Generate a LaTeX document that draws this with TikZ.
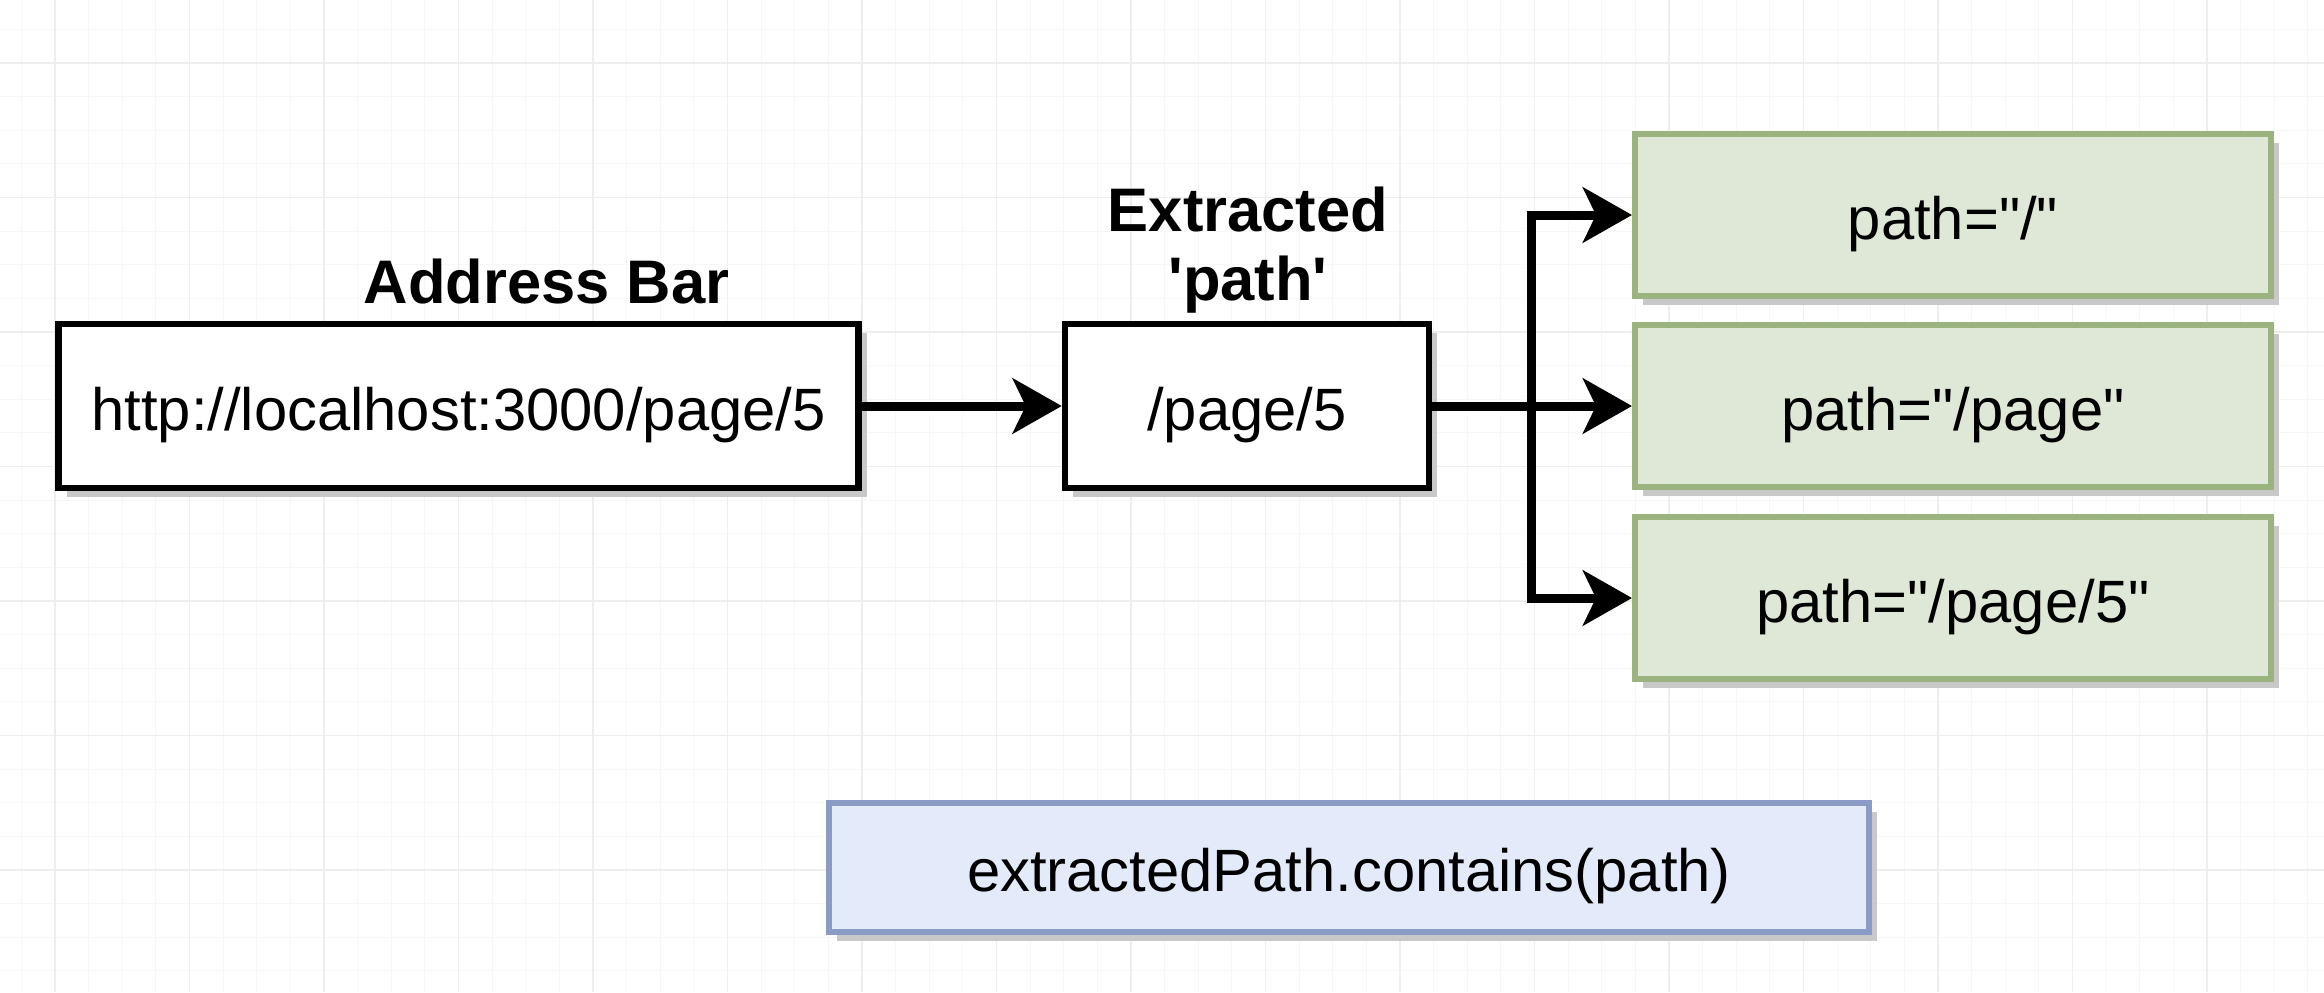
\documentclass[tikz,border=0pt]{standalone}
\usepackage{fontspec}
\setmainfont{Liberation Sans}[Ligatures=TeXOff]
\usetikzlibrary{arrows.meta,shadows}
\definecolor{gridminor}{HTML}{F7F7F7}
\definecolor{gridmajor}{HTML}{EEEEEE}
\definecolor{shadowgray}{HTML}{C8C8C8}
\definecolor{greenfill}{HTML}{DFE8D6}
\definecolor{greenline}{HTML}{9BB37F}
\definecolor{bluefill}{HTML}{E3EBFB}
\definecolor{blueline}{HTML}{8A9CC6}
\tikzset{
  box/.style={draw=black, line width=0.065cm, fill=white, minimum height=1.64cm,
    text height=0.6cm, text depth=0.12cm,
    drop shadow={shadow xshift=0.08cm, shadow yshift=-0.09cm, fill=shadowgray, opacity=1},
    font=\fontsize{17}{20}\selectfont},
  matchbox/.style={box, draw=greenline, fill=greenfill, line width=0.06cm,
    minimum width=6.36cm, minimum height=1.62cm},
  checkbox/.style={box, draw=blueline, fill=bluefill, line width=0.06cm,
    minimum width=10.4cm, minimum height=1.29cm},
  heading/.style={font=\fontsize{17.5}{19.4}\selectfont\bfseries, align=center, anchor=base},
  arrow/.style={line width=0.09cm, -{Stealth[length=4.9mm, width=5.5mm, inset=1.3mm]}}
}
\begin{document}
\begin{tikzpicture}
        \useasboundingbox (0,0) rectangle (23.24,9.92);
        \fill[white] (0,0) rectangle (23.24,9.92);
        % grid
        \foreach \i in {-1,...,67} \draw[gridminor, line width=0.01cm] ({0.55+0.33625*\i},0) -- ({0.55+0.33625*\i},9.92);
        \foreach \j in {-1,...,27} \draw[gridminor, line width=0.01cm] (0,{9.29-0.33625*\j}) -- (23.24,{9.29-0.33625*\j});
        \foreach \i in {0,...,16} \draw[gridmajor, line width=0.012cm] ({0.55+1.345*\i},0) -- ({0.55+1.345*\i},9.92);
        \foreach \j in {0,...,6} \draw[gridmajor, line width=0.012cm] (0,{9.29-1.345*\j}) -- (23.24,{9.29-1.345*\j});

        \node[box, minimum width=8cm] (url) at (4.585,5.86) {http://localhost:3000/page/5};
        \node[heading] (urllabel) at (5.465,6.89) {Address Bar};

        \node[box, minimum width=3.64cm] (extracted) at (12.47,5.86) {/page/5};
        \node[heading] (extractedlabel) at (12.48,6.92) {Extracted\\'path'};

        \node[matchbox] (pathroot) at (19.53,7.77) {path="/"};
        \node[matchbox] (pathpage) at (19.53,5.86) {path="/page"};
        \node[matchbox] (pathfive) at (19.53,3.94) {path="/page/5"};

        \node[checkbox] (contains) at (13.49,1.245) {extractedPath.contains(path)};

        \draw[arrow] (url.east) -- (extracted.west);
        \coordinate (split) at (15.31,5.86);
        \draw[arrow] (extracted.east) -- (pathpage.west);
        \draw[arrow] (split) |- (pathroot.west);
        \draw[arrow] (split) |- (pathfive.west);
\end{tikzpicture}
\end{document}
